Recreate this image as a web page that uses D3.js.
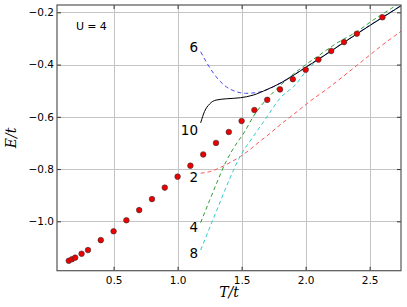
<!DOCTYPE html>
<html>
<head>
<meta charset="utf-8">
<script src="https://cdnjs.cloudflare.com/ajax/libs/d3/7.8.5/d3.min.js"></script>
<style>
  body { margin: 0; background: #fff; }
  text { font-family: "DejaVu Sans", sans-serif; }
  text.math { font-family: "DejaVu Serif", serif; font-style: italic; }
</style>
</head>
<body>
<div id="chart"></div>
<script>
// measured points (red dots)
var dotT = [0.15, 0.175, 0.2, 0.25, 0.3, 0.4, 0.5, 0.6, 0.7, 0.8, 0.9, 1.0, 1.1, 1.2, 1.3, 1.4, 1.5, 1.6, 1.7, 1.8, 1.9, 2.0, 2.1, 2.2, 2.3, 2.4, 2.6];
var dotE = [-1.151, -1.145, -1.139, -1.124, -1.110, -1.072, -1.038, -0.996, -0.957, -0.915, -0.871, -0.829, -0.787, -0.744, -0.700, -0.658, -0.616, -0.574, -0.535, -0.495, -0.456, -0.420, -0.381, -0.348, -0.314, -0.282, -0.219];

// series expansion orders
var order2T = [1.18, 1.25, 1.33, 1.41, 1.49, 1.56, 1.64, 1.72, 1.80, 1.90, 2.03, 2.19, 2.34, 2.47, 2.60, 2.75];
var order2E = [-0.816, -0.810, -0.795, -0.775, -0.752, -0.727, -0.695, -0.664, -0.631, -0.593, -0.542, -0.485, -0.427, -0.376, -0.325, -0.271];

var order4T = [1.18, 1.25, 1.30, 1.38, 1.45, 1.52, 1.59, 1.66, 1.72, 1.78, 1.88, 1.98, 2.11, 2.24, 2.40, 2.53, 2.67, 2.78];
var order4E = [-1.005, -0.920, -0.860, -0.770, -0.710, -0.660, -0.600, -0.553, -0.520, -0.490, -0.446, -0.408, -0.363, -0.319, -0.274, -0.229, -0.185, -0.150];

var order6T = [1.18, 1.23, 1.30, 1.38, 1.46, 1.53, 1.62, 1.71, 1.80, 1.90, 2.0, 2.1, 2.2, 2.3, 2.4, 2.5, 2.6, 2.7, 2.78];
var order6E = [-0.351, -0.395, -0.446, -0.485, -0.504, -0.510, -0.507, -0.494, -0.471, -0.442, -0.410, -0.379, -0.347, -0.314, -0.282, -0.250, -0.219, -0.188, -0.164];

var order8T = [1.18, 1.30, 1.40, 1.49, 1.59, 1.69, 1.80, 1.93, 2.0, 2.11, 2.2, 2.3, 2.4, 2.5, 2.6, 2.7, 2.78];
var order8E = [-1.110, -0.965, -0.845, -0.750, -0.676, -0.606, -0.529, -0.472, -0.427, -0.378, -0.348, -0.315, -0.283, -0.251, -0.220, -0.189, -0.164];

var order10T = [1.18, 1.21, 1.25, 1.30, 1.38, 1.49, 1.59, 1.70, 1.80, 1.90, 2.0, 2.1, 2.2, 2.3, 2.4, 2.5, 2.6, 2.7, 2.78];
var order10E = [-0.623, -0.580, -0.551, -0.536, -0.531, -0.527, -0.517, -0.495, -0.472, -0.443, -0.411, -0.380, -0.348, -0.315, -0.283, -0.251, -0.220, -0.189, -0.164];

var xTicks = [0.5, 1.0, 1.5, 2.0, 2.5];
var yTicks = [-1.0, -0.8, -0.6, -0.4, -0.2];

var W = 407, H = 307;
var margin = {left: 57, top: 5, right: 6, bottom: 36.3};
var pw = W - margin.left - margin.right;
var ph = H - margin.top - margin.bottom;

var svg = d3.select("#chart").append("svg")
  .attr("width", W).attr("height", H);

var x = d3.scaleLinear().domain([0.058, 2.745]).range([0, pw]);
var y = d3.scaleLinear().domain([-1.189, -0.172]).range([ph, 0]);

var g = svg.append("g").attr("transform", "translate(" + margin.left + "," + margin.top + ")");

svg.append("defs").append("clipPath").attr("id", "clip")
  .append("rect").attr("width", pw).attr("height", ph);

// grid: thin filled rects, 1px wide, light gray
var gridG = g.append("g").attr("class", "grid");
gridG.selectAll("rect.gx").data(xTicks).enter().append("rect")
  .attr("class", "gx")
  .attr("x", d => Math.round(x(d)))
  .attr("y", 0)
  .attr("width", 1)
  .attr("height", ph)
  .attr("fill", "#c4c4c4");
gridG.selectAll("rect.gy").data(yTicks).enter().append("rect")
  .attr("class", "gy")
  .attr("x", 0)
  .attr("y", d => Math.round(y(d)))
  .attr("width", pw)
  .attr("height", 1)
  .attr("fill", "#c4c4c4");

// axes (ticks inside, on all sides)
var fmt = d3.format(".1f");
function minus(d) { return fmt(d).replace("-", "\u2212"); }

var ax = g.append("g").attr("transform", "translate(0," + ph + ")")
  .call(d3.axisBottom(x).tickValues(xTicks).tickFormat(fmt).tickSizeInner(-4).tickSizeOuter(0).tickPadding(6));
var ax2 = g.append("g")
  .call(d3.axisTop(x).tickValues(xTicks).tickFormat("").tickSizeInner(-4).tickSizeOuter(0));
var ay = g.append("g")
  .call(d3.axisLeft(y).tickValues(yTicks).tickFormat(minus).tickSizeInner(-4).tickSizeOuter(0).tickPadding(3));
var ay2 = g.append("g").attr("transform", "translate(" + pw + ",0)")
  .call(d3.axisRight(y).tickValues(yTicks).tickFormat("").tickSizeInner(-4).tickSizeOuter(0));

[ax, ax2, ay, ay2].forEach(function(a) {
  a.select(".domain").remove();
  a.selectAll(".tick line").attr("stroke", "#333");
  a.selectAll("text").attr("font-size", 10.5).attr("fill", "#000");
});

// curves
var line = d3.line().x(d => x(d[0])).y(d => y(d[1])).curve(d3.curveMonotoneX);
var curves = [
  {t: order2T, e: order2E, color: "#ff5555", dash: "4,3"},
  {t: order4T, e: order4E, color: "#2e9e2e", dash: "4,3"},
  {t: order8T, e: order8E, color: "#33cccc", dash: "4,3"},
  {t: order6T, e: order6E, color: "#4a4aee", dash: "4,3"},
  {t: order10T, e: order10E, color: "#000", dash: null}
];
var cg = g.append("g").attr("clip-path", "url(#clip)");
curves.forEach(function(c) {
  var pts = c.t.map((t, i) => [t, c.e[i]]);
  var p = cg.append("path").datum(pts)
    .attr("d", line)
    .attr("fill", "none")
    .attr("stroke", c.color)
    .attr("stroke-width", 1);
  if (c.dash) p.attr("stroke-dasharray", c.dash);
});

// dots
cg.selectAll(".dot").data(dotT).enter().append("circle")
  .attr("cx", d => x(d))
  .attr("cy", (d, i) => y(dotE[i]))
  .attr("r", 2.8)
  .attr("fill", "#ee0000")
  .attr("stroke", "#333")
  .attr("stroke-width", 0.6);

// frame
g.append("rect").attr("width", pw).attr("height", ph)
  .attr("fill", "none").attr("stroke", "#555").attr("stroke-width", 1.2);

// curve labels
var labels = ["6", "10", "2", "4", "8"];
var lblY = {"6": 52, "10": 135, "2": 182, "4": 232, "8": 258};
labels.forEach(function(l) {
  svg.append("text")
    .attr("x", 198)
    .attr("y", lblY[l])
    .attr("text-anchor", "end")
    .attr("font-size", 13.5)
    .text(l);
});

// U=4
g.append("text").attr("x", 19).attr("y", 25.3)
  .attr("font-size", 11).attr("letter-spacing", 3.3)
  .text("U=4");

// axis labels
svg.append("text").attr("class", "math")
  .attr("x", margin.left + pw / 2).attr("y", 297)
  .attr("text-anchor", "middle")
  .attr("font-size", 14)
  .text("T/t");
svg.append("text").attr("class", "math")
  .attr("transform", "translate(16," + (margin.top + ph / 2) + ") rotate(-90)")
  .attr("text-anchor", "middle")
  .attr("font-size", 14)
  .text("E/t");
</script>
</body>
</html>
